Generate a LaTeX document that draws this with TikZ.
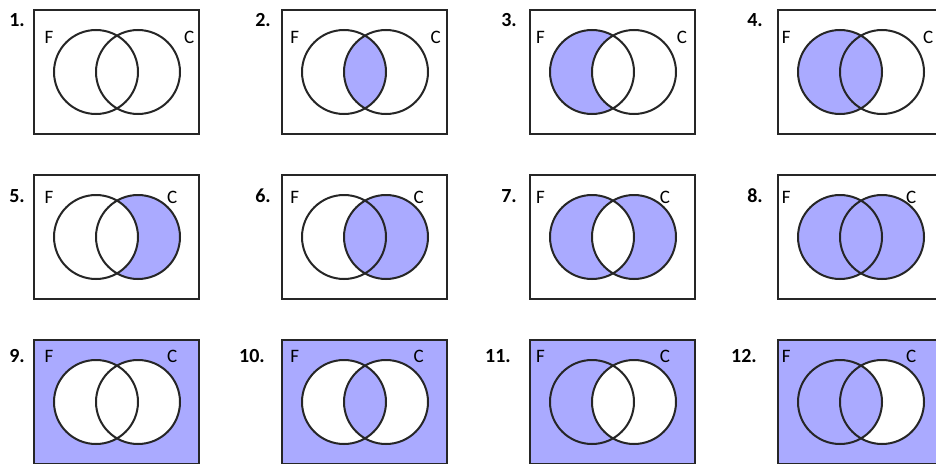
\documentclass[tikz,border=0pt]{standalone}
\usepackage{fontspec}
\setmainfont{Carlito}
\definecolor{vennblue}{RGB}{170,170,255}

\begin{document}
\begin{tikzpicture}[x=1pt, y=-1pt,
    outline/.style={line width=2pt, draw=black!85},
    region/.style={fill=vennblue},
    blank/.style={fill=white},
    num/.style={anchor=east, inner sep=0pt, font=\fontsize{20}{20}\selectfont\bfseries},
    setname/.style={anchor=west, inner sep=0pt, font=\fontsize{19}{19}\selectfont}]
\useasboundingbox (0,0) rectangle (936,463);

% shaded regions, row 1
\begin{scope}[shift={(282,10)}]
\clip (62,62) circle[radius=42pt];
\fill[region] (104,62) circle[radius=42pt];
\end{scope}
\begin{scope}[shift={(530,10)}]
\fill[region] (62,62) circle[radius=42pt];
\fill[blank] (104,62) circle[radius=42pt];
\end{scope}
\fill[region, shift={(778,10)}] (62,62) circle[radius=42pt];

% row 2
\begin{scope}[shift={(34,175)}]
\fill[region] (104,62) circle[radius=42pt];
\fill[blank] (62,62) circle[radius=42pt];
\end{scope}
\fill[region, shift={(282,175)}] (104,62) circle[radius=42pt];
\fill[region, even odd rule, shift={(530,175)}] (62,62) circle[radius=42pt] (104,62) circle[radius=42pt];
\fill[region, shift={(778,175)}] (62,62) circle[radius=42pt] (104,62) circle[radius=42pt];

% row 3
\begin{scope}[shift={(34,340)}]
\fill[region] (0,0) rectangle (165,124);
\fill[blank] (62,62) circle[radius=42pt] (104,62) circle[radius=42pt];
\end{scope}
\fill[region, even odd rule, shift={(282,340)}] (0,0) rectangle (165,124)
  (62,62) circle[radius=42pt] (104,62) circle[radius=42pt];
\begin{scope}[shift={(530,340)}]
\fill[region] (0,0) rectangle (165,124);
\fill[blank] (104,62) circle[radius=42pt];
\end{scope}
\begin{scope}[shift={(778,340)}]
\fill[region] (0,0) rectangle (165,124);
\fill[blank] (104,62) circle[radius=42pt];
\fill[region] (62,62) circle[radius=42pt];
\end{scope}

% frames, circles and labels
\foreach \n/\c/\r/\ly/\ny/\cx in {1/0/0/27/10/150, 2/1/0/27/10/150, 3/2/0/27/10/150, 4/3/0/27/10/150,
    5/0/1/22/21/133, 6/1/1/22/21/133, 7/2/1/22/21/133, 8/3/1/22/21/133,
    9/0/2/16/16/133, 10/1/2/16/16/133, 11/2/2/16/16/133, 12/3/2/16/16/133} {
  \pgfmathsetmacro{\ox}{34+248*\c}
  \pgfmathsetmacro{\oy}{10+165*\r}
  \pgfmathsetmacro{\nx}{\n>9 ? -15-2*\c : -9-2*\c}
  \begin{scope}[shift={(\ox,\oy)}]
    \draw[outline] (0,0) rectangle (165,124);
    \draw[outline] (62,62) circle[radius=42pt] (104,62) circle[radius=42pt];
    \node[num] (num\n) at (\nx,\ny) {\n.};
    \node[setname] (f\n) at (10.5-2.3*\c,\ly) {F};
    \node[setname] (c\n) at (\cx-1.7*\c,\ly) {C};
  \end{scope}
}
\end{tikzpicture}
\end{document}
